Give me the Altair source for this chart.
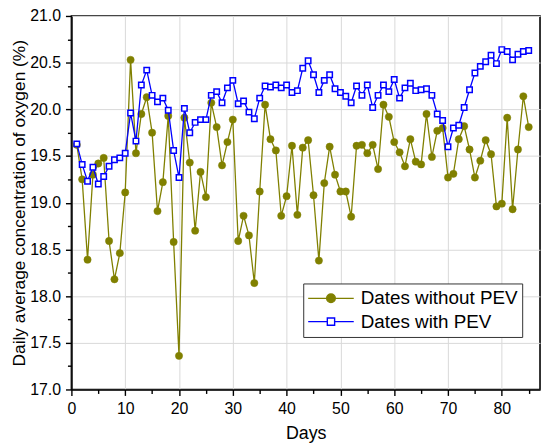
import altair as alt
import pandas as pd

# ---------------- data ----------------
days = list(range(1, 86))
without_pev = [19.62, 19.25, 18.39, 19.30, 19.42, 19.48, 18.59, 18.18, 18.46, 19.11,
               20.53, 19.53, 19.95, 20.13, 19.75, 18.91, 19.22, 19.93, 18.58, 17.36,
               19.91, 19.43, 18.70, 19.33, 19.06, 20.07, 19.81, 19.40, 19.65, 19.89,
               18.59, 18.86, 18.65, 18.14, 19.12, 20.05, 19.68, 19.56, 18.86, 19.07,
               19.61, 18.87, 19.59, 19.67, 19.08, 18.38, 19.21, 19.60, 19.30, 19.12,
               19.12, 18.85, 19.61, 19.62, 19.53, 19.62, 19.36, 20.05, 19.92, 19.65,
               19.54, 19.39, 19.68, 19.44, 19.41, 19.95, 19.49, 19.77, 19.80, 19.27,
               19.31, 19.68, 19.82, 19.57, 19.27, 19.45, 19.67, 19.52, 18.96, 18.99,
               19.91, 18.93, 19.57, 20.14, 19.81]
with_pev = [19.63, 19.41, 19.23, 19.38, 19.20, 19.28, 19.39, 19.46, 19.48, 19.53,
            19.96, 19.66, 20.26, 20.42, 20.15, 20.08, 20.12, 19.99, 19.56, 19.27,
            20.01, 19.75, 19.86, 19.89, 19.89, 20.15, 20.19, 20.07, 20.23, 20.31,
            20.06, 20.09, 19.97, 19.90, 20.12, 20.25, 20.24, 20.26, 20.23, 20.26,
            20.18, 20.20, 20.44, 20.52, 20.37, 20.18, 20.31, 20.37, 20.22, 20.18,
            20.14, 20.07, 20.25, 20.15, 20.26, 20.02, 20.15, 20.26, 20.19, 20.32,
            20.12, 20.23, 20.28, 20.20, 20.21, 20.22, 20.15, 19.95, 19.88, 19.60,
            19.80, 19.83, 20.02, 20.21, 20.39, 20.46, 20.51, 20.58, 20.49, 20.64,
            20.62, 20.53, 20.59, 20.62, 20.63]

series_names = ["Dates without PEV", "Dates with PEV"]
line_colors = ["#808000", "#0000ff"]
marker_fills = ["#808000", "#ffffff"]

x_ticks = list(range(0, 86, 5))            # majors every 10, minors every 5
y_ticks = [17.0 + 0.25 * i for i in range(17)]  # majors every 0.5, minors every 0.25

x_title = "Days"
y_title = "Daily average concentration of oxygen (%)"

# legend symbols: line with marker (paths in the [-1, 1] box)
legend_shapes = [
    "M-1,0L1,0M0.19,0A0.19,0.19,0,1,1,-0.19,0A0.19,0.19,0,1,1,0.19,0Z",
    "M-1,0L-0.16,0M0.16,0L1,0M-0.16,-0.16L0.16,-0.16L0.16,0.16L-0.16,0.16Z",
]

FONT = "Liberation Sans"

df = pd.DataFrame({
    "day": days + days,
    "value": without_pev + with_pev,
    "series": [series_names[0]] * len(days) + [series_names[1]] * len(days),
})

x_major = "datum.value % 10 === 0"
y_major = "round(datum.value * 4) % 2 === 0"

x_axis = alt.Axis(
    values=x_ticks,
    labelExpr=f"{x_major} ? datum.label : ''",
    tickSize={"condition": {"test": x_major, "value": 6}, "value": 4},
    gridOpacity={"condition": {"test": x_major, "value": 1}, "value": 0},
    labelFlush=False, labelOverlap=False,
    labelPadding=5, titlePadding=8, titleFontSize=18,
)
y_axis = alt.Axis(
    values=y_ticks, format=".1f",
    labelExpr=f"{y_major} ? datum.label : ''",
    tickSize={"condition": {"test": y_major, "value": 6}, "value": 4},
    gridOpacity={"condition": {"test": y_major, "value": 1}, "value": 0},
    labelFlush=False, labelOverlap=False,
    labelPadding=5, titlePadding=1, titleFontSize=17.5,
)

x_enc = alt.X("day:Q", scale=alt.Scale(domain=[0, 87.1], nice=False, zero=False),
              axis=x_axis, title=x_title)
y_enc = alt.Y("value:Q", scale=alt.Scale(domain=[17, 21], nice=False, zero=False),
              axis=y_axis, title=y_title)

base = alt.Chart(df)
without_df = base.transform_filter(alt.datum.series == series_names[0])
with_df = base.transform_filter(alt.datum.series == series_names[1])

line_a = without_df.mark_line(color=line_colors[0], strokeWidth=1.3).encode(x=x_enc, y=y_enc)
pts_a = without_df.mark_point(shape="circle", filled=True, fill=marker_fills[0],
                              stroke=line_colors[0], strokeWidth=0.5, size=54,
                              opacity=1).encode(x=x_enc, y=y_enc)
line_b = with_df.mark_line(color=line_colors[1], strokeWidth=1.3).encode(x=x_enc, y=y_enc)
pts_b = with_df.mark_point(shape="square", filled=True, fill=marker_fills[1],
                           stroke=line_colors[1], strokeWidth=1.5, size=30,
                           opacity=1).encode(x=x_enc, y=y_enc)

leg = alt.Legend(
    title=None, orient="none", legendX=234, legendY=270,
    symbolSize=2116, symbolStrokeWidth=1.4, symbolOpacity=1,
    clipHeight=22, rowPadding=1.5, padding=4,
    labelFontSize=19, labelFont=FONT, labelColor="black", labelOffset=6,
    fillColor="white", strokeColor="#333333",
)
legend_layer = base.mark_point(filled=True, opacity=0).encode(
    x=x_enc, y=y_enc,
    fill=alt.Fill("series:N", scale=alt.Scale(domain=series_names, range=marker_fills), legend=leg),
    stroke=alt.Stroke("series:N", scale=alt.Scale(domain=series_names, range=line_colors), legend=leg),
    shape=alt.Shape("series:N", scale=alt.Scale(domain=series_names, range=legend_shapes), legend=leg),
)

chart = alt.layer(line_a, pts_a, line_b, pts_b, legend_layer).properties(
    width=473, height=377,
    padding={"left": 64, "top": 6, "right": 2, "bottom": 53},
    autosize=alt.AutoSizeParams(type="none"),
).configure_view(
    stroke="black", strokeWidth=1.6,
).configure_axis(
    domainColor="black", domainWidth=1.6,
    tickColor="black", tickWidth=1.4,
    labelFont=FONT, labelFontSize=16, labelColor="black",
    titleFont=FONT, titleFontWeight="normal", titleColor="black",
    gridColor="#d9d9d9", gridWidth=1,
).configure_legend(symbolOpacity=1)

chart.save("out.html", embed_options={"renderer": "svg", "actions": False})
